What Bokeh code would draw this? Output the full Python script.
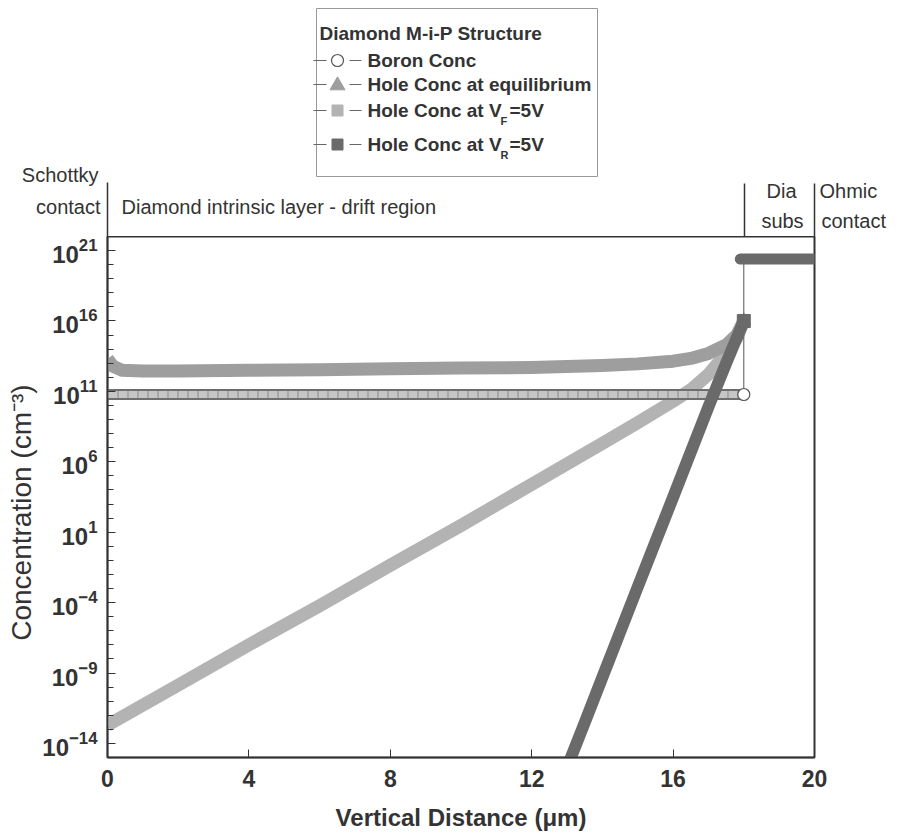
from bokeh.plotting import figure
from bokeh.layouts import column
from bokeh.models import Range1d, FixedTicker
from bokeh.embed import file_html
from bokeh.resources import INLINE
from bokeh.core.properties import value

# ---------------- data ----------------
# Boron concentration: constant in drift layer, then substrate level
boron_x = [0.0, 18.0, 18.0, 20.0]
boron_conc = [6e10, 6e10, 2.5e20, 2.5e20]

# Hole concentration at equilibrium
eq_x = [0.0, 0.15, 0.4, 1.0, 2.0, 4.0, 6.0, 8.0, 10.0, 12.0, 14.0, 15.0, 16.0, 16.5, 17.0, 17.5, 17.8, 18.0]
eq_conc = [2e13, 6.3e12, 3.2e12, 2.8e12, 2.8e12, 3.2e12, 3.5e12, 4e12, 4.5e12, 5e12, 7e12, 9e12,
           1.4e13, 2.2e13, 5e13, 2e14, 1e15, 1e16]

# Hole concentration at forward bias VF = 5 V
vf_x = [0.0, 2.0, 4.0, 6.0, 8.0, 10.0, 12.0, 14.0, 15.0, 16.0, 16.5, 17.0, 17.5, 17.8, 18.0]
vf_conc = [2e-13, 1.4e-10, 1e-7, 6e-5, 4.5e-2, 3e1, 2.5e4, 2e7, 6e8, 2e10, 1.3e11, 1.6e12, 5e13, 6e14, 1e16]

# Hole concentration at reverse bias VR = 5 V
vr_x = [13.0, 13.5, 14.0, 14.5, 15.0, 15.5, 16.0, 16.5, 17.0, 17.5, 18.0]
vr_conc = [2e-16, 3e-13, 5e-10, 8e-7, 1.3e-3, 2.0, 3e3, 5e6, 8e9, 1e13, 1e16]

# Substrate (all hole curves coincide here)
substrate_x = [17.9, 20.0]
substrate_conc = [2.5e20, 2.5e20]

x_ticks = [0, 4, 8, 12, 16, 20]
y_ticks = [1e-14, 1e-9, 1e-4, 1e1, 1e6, 1e11, 1e16, 1e21]
y_minor = [10.0 ** k for k in range(-15, 23)]

legend_title = "Diamond M-i-P Structure"
legend_labels = ["Boron Conc", "Hole Conc at equilibrium", "Hole Conc at V", "Hole Conc at V"]
legend_subs = ["", "", "F", "R"]

FONT = "Liberation Sans"
TXT = "#333333"
C_EQ = "#9e9e9e"
C_VF = "#b3b3b3"
C_VR = "#6a6a6a"
C_B = "#6e6e6e"

W = 898
HEAD = 236
FL, FR = 107, 814
MAIN_H = 838 - HEAD
FRAME_H = 521

# ---------------- header figure (region labels + legend), pixel coordinates ----------------
h = figure(width=W, height=HEAD, x_range=Range1d(0, W), y_range=Range1d(HEAD, 0),
           output_backend="svg", toolbar_location=None,
           min_border_left=0, min_border_right=0, min_border_top=0, min_border_bottom=0)
h.frame_align = False
h.axis.visible = False
h.xgrid.visible = False
h.ygrid.visible = False
h.outline_line_color = None


def text(px, py, s, size="20px", align="left", style="normal", color=TXT):
    h.text([px], [py], text=[s], text_align=align, text_baseline="middle",
           text_font=value(FONT), text_font_size=value(size), text_font_style=style,
           text_color=color)


# region labels
text(98, 174, "Schottky", align="right")
text(100, 206, "contact", align="right")
text(121, 206, "Diamond intrinsic layer - drift region")
text(781, 190, "Dia", align="center")
text(782, 220, "subs", align="center")
text(819, 190, "Ohmic")
text(821, 220, "contact")
h.segment(x0=[107, 744, 814], y0=[182, 183, 183], x1=[107, 744, 814], y1=[HEAD, HEAD, HEAD],
          line_color="#333333", line_width=1.5)

# legend box
h.quad(left=[316], right=[597], top=[8], bottom=[176], fill_color="white",
       line_color="#999999", line_width=1)
text(319, 33, legend_title, size="19px", style="bold")
rows = [60, 84, 110, 144]
cx = 337
h.segment(x0=[313] * 4, y0=rows, x1=[326] * 4, y1=rows, line_color="#666666", line_width=1.2)
h.segment(x0=[349] * 4, y0=rows, x1=[361] * 4, y1=rows, line_color="#666666", line_width=1.2)
h.scatter([cx], [rows[0]], marker="circle", size=12, fill_color="white", line_color="#555555", line_width=1.2)
h.scatter([cx], [rows[1] + 1], marker="triangle", size=15, fill_color=C_EQ, line_color=C_EQ)
h.scatter([cx], [rows[2]], marker="square", size=11, fill_color=C_VF, line_color=C_VF)
h.scatter([cx], [rows[3]], marker="square", size=11, fill_color=C_VR, line_color=C_VR)
for r, lab, sub in zip(rows, legend_labels, legend_subs):
    text(367, r, lab, size="19px", style="bold")
    if sub:
        text(500, r + 10, sub, size="11px", style="bold")
        text(509, r, "=5V", size="19px", style="bold")

# ---------------- main figure ----------------
p = figure(width=W, height=MAIN_H, x_range=Range1d(0, 20), y_range=Range1d(1e-15, 1e22),
           y_axis_type="log", output_backend="svg", toolbar_location=None,
           min_border_left=FL, min_border_right=W - FR, min_border_top=0,
           min_border_bottom=MAIN_H - FRAME_H)
p.frame_align = False
p.xgrid.visible = False
p.ygrid.visible = False
p.outline_line_color = "#333333"
p.outline_line_width = 2
p.background_fill_color = "white"
p.border_fill_color = "white"

# x axis
p.xaxis.ticker = FixedTicker(ticks=x_ticks)
p.xaxis.major_tick_in = 8
p.xaxis.major_tick_out = 0
p.xaxis.minor_tick_line_color = None
p.xaxis.axis_line_color = "#333333"
p.xaxis.axis_line_width = 1.5
p.xaxis.major_tick_line_color = "#333333"
p.xaxis.major_label_text_font = FONT
p.xaxis.major_label_text_font_style = "bold"
p.xaxis.major_label_text_font_size = "23px"
p.xaxis.major_label_text_color = TXT
p.xaxis.major_label_standoff = 12
p.xaxis.axis_label = "Vertical Distance (μm)"
p.xaxis.axis_label_text_font = FONT
p.xaxis.axis_label_text_font_style = "bold"
p.xaxis.axis_label_text_font_size = "24px"
p.xaxis.axis_label_text_color = TXT
p.xaxis.axis_label_standoff = 14

# y axis
p.yaxis.ticker = FixedTicker(ticks=y_ticks, minor_ticks=y_minor)
p.yaxis.major_tick_in = 8
p.yaxis.major_tick_out = 0
p.yaxis.minor_tick_in = 6
p.yaxis.minor_tick_out = 0
p.yaxis.axis_line_color = "#333333"
p.yaxis.axis_line_width = 1.5
p.yaxis.major_tick_line_color = "#333333"
p.yaxis.minor_tick_line_color = "#333333"
p.yaxis.major_label_text_font = FONT
p.yaxis.major_label_text_font_style = "bold"
p.yaxis.major_label_text_font_size = "24px"
p.yaxis.major_label_text_color = TXT
p.yaxis.major_label_standoff = 10
p.yaxis.axis_label = "Concentration (cm⁻³)\u00a0\u00a0\u00a0\u00a0"
p.yaxis.axis_label_text_font = FONT
p.yaxis.axis_label_text_font_style = "normal"
p.yaxis.axis_label_text_font_size = "28px"
p.yaxis.axis_label_text_color = TXT
p.yaxis.axis_label_standoff = 2

# ---------------- series ----------------
p.line(vf_x, vf_conc, line_width=13, color=C_VF, line_join="round")
p.line(eq_x, eq_conc, line_width=13, color=C_EQ, line_join="round")
p.scatter(eq_x[-1:], eq_conc[-1:], marker="triangle", size=14, color=C_EQ)

p.line(boron_x[:2], boron_conc[:2], line_width=11, color=C_B)
p.line(boron_x[:2], boron_conc[:2], line_width=7, color="#c6c6c6")
p.line(boron_x[:2], boron_conc[:2], line_width=7, color="#8a8a8a", line_dash="1 9")
p.line(boron_x[1:], boron_conc[1:], line_width=1, color="#555555")
p.scatter(boron_x[1:2], boron_conc[1:2], marker="circle", size=12, fill_color="white",
          line_color="#555555", line_width=1.2)

p.line(vr_x, vr_conc, line_width=12, color=C_VR, line_join="round")
p.scatter(vr_x[-1:], vr_conc[-1:], marker="square", size=13, color=C_VR)
p.line(substrate_x, substrate_conc, line_width=11, color=C_VR, line_cap="round")

layout = column(h, p, spacing=0)
open("out.html", "w").write(file_html(layout, INLINE))
